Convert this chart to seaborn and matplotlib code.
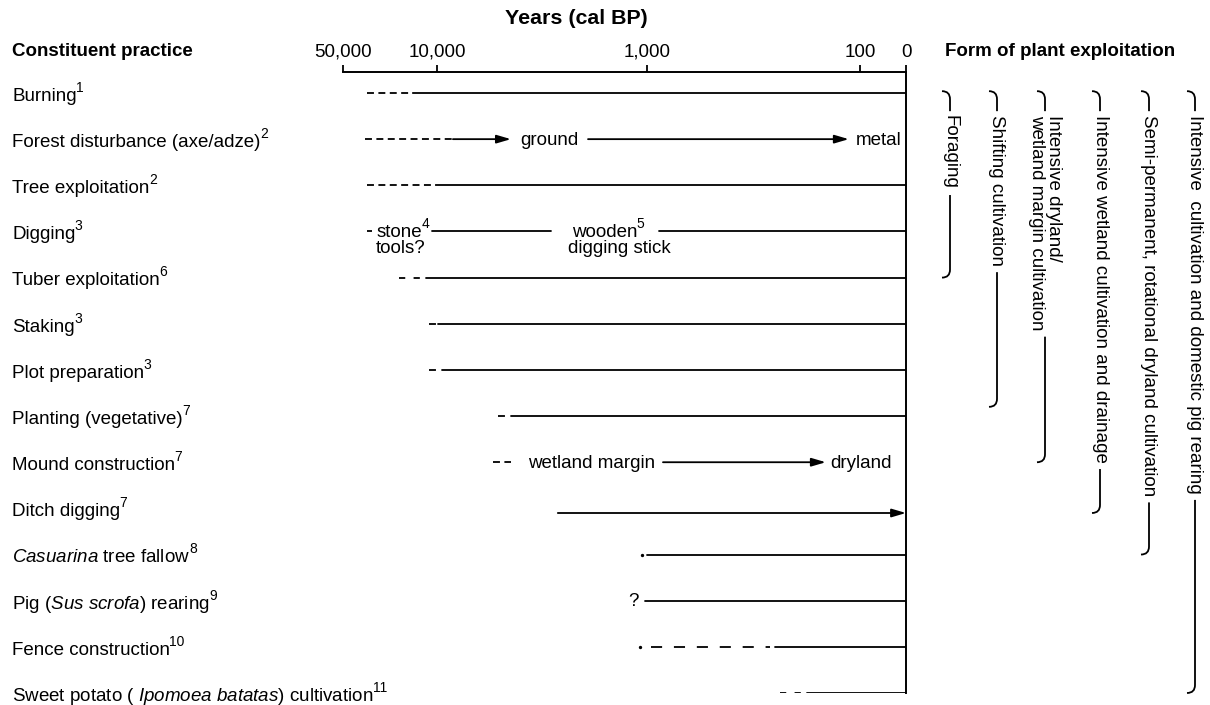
import numpy as np
import pandas as pd
import matplotlib
matplotlib.use("Agg")
import matplotlib.pyplot as plt
from matplotlib.path import Path
from matplotlib.patches import PathPatch
import seaborn as sns

# ---------------- data ----------------
practices = [
    "Burning",
    "Forest disturbance (axe/adze)",
    "Tree exploitation",
    "Digging",
    "Tuber exploitation",
    "Staking",
    "Plot preparation",
    "Planting (vegetative)",
    "Mound construction",
    "Ditch digging",
    r"$\mathit{Casuarina}$ tree fallow",
    r"Pig ($\mathit{Sus\ scrofa}$) rearing",
    "Fence construction",
    r"Sweet potato ( $\mathit{Ipomoea\ batatas}$) cultivation",
]
notes = [1, 2, 2, 3, 6, 3, 3, 7, 7, 7, 8, 9, 10, 11]

# pieces of each timeline, years cal BP: (row, older end, younger end, kind)
segments = [
    (0, 33000, 15000, "fine"), (0, 15000, 0, "solid"),
    (1, 34300, 8400, "fine"),
    (2, 33000, 10100, "fine"), (2, 10100, 0, "solid"),
    (3, 33000, 30400, "fine"), (3, 10900, 2870, "solid"), (3, 880, 0, "solid"),
    (4, 19200, 13400, "wide"), (4, 12000, 0, "solid"),
    (5, 11500, 10200, "fine"), (5, 9900, 0, "solid"),
    (6, 11500, 10200, "fine"), (6, 9500, 0, "solid"),
    (7, 5130, 4750, "fine"), (7, 4450, 0, "solid"),
    (8, 5420, 4450, "fine"),
    (10, 1000, 0, "solid"),
    (11, 1020, 0, "solid"),
    (12, 960, 265, "long"), (12, 250, 0, "solid"),
    (13, 238, 186, "wide"), (13, 178, 0, "solid"),
]
arrows = [(1, 8400, 4450), (1, 1910, 113), (8, 842, 145), (9.1, 2660, 0)]
dots = [(10, 1060), (12, 1080)]

# text along the timelines: (row, year, text, note, align)
inline_labels = [
    (1, 4030, "ground", None, "left"),
    (1, 105, "metal", None, "left"),
    (3, 28400, "stone", 4, "left"),
    (3.34, 28400, "tools?", None, "left"),
    (3, 2280, "wooden", 5, "left"),
    (3.34, 2380, "digging stick", None, "left"),
    (8, 3690, "wetland margin", None, "left"),
    (8, 138, "dryland", None, "left"),
    (11, 1154, "?", None, "center"),
]

tick_years = [50000, 10000, 1000, 100, 0]
tick_labels = ["50,000", "10,000", "1,000", "100", "0"]
# the time axis is stretched unevenly between the labelled years
axis_breaks = [0, 0.0817, 0.460, 0.833, 1.0]

forms = [
    "Foraging",
    "Shifting cultivation",
    "Intensive dryland/\nwetland margin cultivation",
    "Intensive wetland cultivation and drainage",
    "Semi-permanent, rotational dryland cultivation",
    "Intensive  cultivation and domestic pig rearing",
]
form_end_rows = [4.0, 6.8, 8.0, 9.1, 10.0, 13.0]
form_x = [950, 997, 1045, 1100, 1149, 1195]

# ---------------- style ----------------
sns.set_theme(style="white")
plt.rcParams["font.family"] = ["Liberation Sans", "DejaVu Sans"]
plt.rcParams.update({
    "mathtext.fontset": "custom",
    "mathtext.rm": "Liberation Sans",
    "mathtext.it": "Liberation Sans:italic",
    "mathtext.bf": "Liberation Sans:bold",
    "mathtext.default": "regular",
    "lines.scale_dashes": False,
    "text.color": "black",
})
FS = 13.5
SUP = 10
LW = 1.3

_logs = np.log10(np.array(tick_years[::-1]) + 1.0)
_pos = np.array(axis_breaks)


def forward(y):
    return np.interp(np.log10(np.clip(y, 0, None) + 1.0), _logs, _pos)


def inverse(p):
    return 10 ** np.interp(p, _pos, _logs) - 1.0


W, H = 1210, 705
fig = plt.figure(figsize=(W / 100, H / 100), dpi=100)
ax = fig.add_axes([343 / W, 1 - 693 / H, (906 - 343) / W, (693 - 72) / H])
ax.set_xscale("function", functions=(forward, inverse))

seg_df = pd.DataFrame(
    [(i, r, y, kind) for i, (r, a, b, kind) in enumerate(segments) for y in (a, b)],
    columns=["seg", "row", "year", "kind"],
)
dash_styles = {"solid": "", "fine": (5, 3.2), "wide": (4.5, 6), "long": (8, 8.5)}
sns.lineplot(data=seg_df, x="year", y="row", units="seg", estimator=None,
             style="kind", dashes=dash_styles, color="black", linewidth=LW,
             legend=False, sort=False, ax=ax)

for r, a, b in arrows:
    ax.annotate("", xy=(b, r), xytext=(a, r),
                arrowprops=dict(arrowstyle="-|>,head_length=0.85,head_width=0.25",
                                mutation_scale=10, color="black", lw=LW,
                                shrinkA=0, shrinkB=0))
for r, yr in dots:
    ax.plot([yr], [r], marker="o", ms=1.4, color="black", lw=0)

ax.set_xlim(50000, 0)
ax.set_ylim(13, -0.455)
ax.set_xticks(tick_years, tick_labels)
ax.set_yticks([])
ax.set_xlabel("")
ax.set_ylabel("")
ax.xaxis.tick_top()
ax.tick_params(axis="x", which="major", direction="out", length=5, width=LW,
               pad=3, labelsize=FS, colors="black")
ax.minorticks_off()
for side in ["left", "bottom"]:
    ax.spines[side].set_visible(False)
for side in ["top", "right"]:
    ax.spines[side].set_color("black")
    ax.spines[side].set_linewidth(1.4)
ax.patch.set_alpha(0)

# headings
fig.text(576 / W, 1 - 18 / H, "Years (cal BP)", ha="center", va="center",
         fontsize=15.4, fontweight="bold")
fig.text(12 / W, 1 - 52 / H, "Constituent practice", ha="left", va="center",
         fontsize=FS, fontweight="bold")
fig.text(945 / W, 1 - 52 / H, "Form of plant exploitation", ha="left", va="center",
         fontsize=FS, fontweight="bold")

# overlay in pixel units for superscripts and brackets
ov = fig.add_axes([0, 0, 1, 1], zorder=3)
ov.set_xlim(0, W)
ov.set_ylim(0, H)
ov.axis("off")


def row_y(r):
    return ax.transData.transform((1000, r))[1]


renderer = fig.canvas.get_renderer()


def add_note(t, n, baseline):
    x1 = t.get_window_extent(renderer).x1
    ov.text(x1 - 0.5, baseline + 9, str(n), ha="left", va="baseline", fontsize=SUP)


# row labels on the left
for i, (name, n) in enumerate(zip(practices, notes)):
    base = row_y(i + 0.17)
    t = ov.text(12, base, name, ha="left", va="baseline", fontsize=FS)
    add_note(t, n, base)

# texts along the timelines
for r, yr, txt, n, ha in inline_labels:
    x = ax.transData.transform((yr, r))[0]
    base = row_y(r + 0.12)
    t = ov.text(x, base, txt, ha=ha, va="baseline", fontsize=FS)
    if n is not None:
        add_note(t, n, base)

# brackets for the forms of plant exploitation
hook = 8
y_top = row_y(-0.04)
for label, end_row, x in zip(forms, form_end_rows, form_x):
    top = Path([(x - hook, y_top), (x, y_top), (x, y_top - hook), (x, y_top - 20)],
               [Path.MOVETO, Path.CURVE3, Path.CURVE3, Path.LINETO])
    ov.add_patch(PathPatch(top, fill=False, lw=LW, ec="black"))
    t = ov.text(x, y_top - 24, label, rotation=-90, ha="center", va="top",
                fontsize=FS, multialignment="left", linespacing=1.0)
    y0 = t.get_window_extent(renderer).y0 - 6
    yb = row_y(end_row)
    bot = Path([(x, y0), (x, yb + hook), (x, yb), (x - hook, yb)],
               [Path.MOVETO, Path.LINETO, Path.CURVE3, Path.CURVE3])
    ov.add_patch(PathPatch(bot, fill=False, lw=LW, ec="black"))

fig.savefig("out.png", dpi=100)
plt.close(fig)
